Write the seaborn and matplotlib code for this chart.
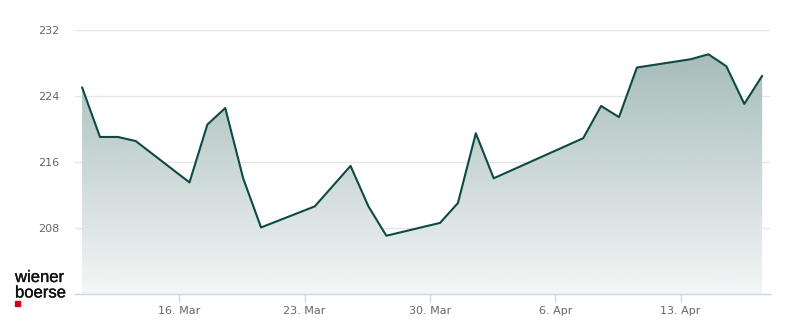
import numpy as np
import pandas as pd
import matplotlib
matplotlib.use("Agg")
import matplotlib.pyplot as plt
import matplotlib.dates as mdates
import matplotlib.patheffects as pe
import seaborn as sns

dates = ["2026-03-10", "2026-03-11", "2026-03-12", "2026-03-13", "2026-03-16",
         "2026-03-17", "2026-03-18", "2026-03-19", "2026-03-20", "2026-03-23",
         "2026-03-25", "2026-03-26", "2026-03-27", "2026-03-30", "2026-03-31",
         "2026-04-01", "2026-04-02", "2026-04-07", "2026-04-08", "2026-04-09",
         "2026-04-10", "2026-04-13", "2026-04-14", "2026-04-15", "2026-04-16",
         "2026-04-17"]
close = [225.0, 219.0, 219.0, 218.5, 213.5,
         220.5, 222.5, 214.0, 208.05, 210.6,
         215.5, 210.6, 207.05, 208.6, 211.0,
         219.45, 214.0, 218.85, 222.75, 221.4,
         227.4, 228.4, 229.0, 227.55, 223.0,
         226.4]
tick_dates = ["2026-03-16", "2026-03-23", "2026-03-30", "2026-04-06", "2026-04-13"]
tick_labels = ["16. Mar", "23. Mar", "30. Mar", "6. Apr", "13. Apr"]
y_ticks = [208, 216, 224, 232]

LINE = "#0e4a44"

df = pd.DataFrame({"date": pd.to_datetime(dates) + pd.Timedelta(hours=13.5),
                   "close": close})

sns.set_style("white")
plt.rcParams["font.family"] = ["DejaVu Sans"]

fig = plt.figure(figsize=(8, 3.24), dpi=100)
ax = fig.add_axes([75 / 800, 30 / 324, 695 / 800, 264.5 / 324])

xnum = mdates.date2num(df["date"])
x0 = mdates.date2num(pd.Timestamp("2026-03-10 04:00"))
x1 = mdates.date2num(pd.Timestamp("2026-04-18 00:00"))
ymin, ymax = 200, 232

ax.grid(axis="y", color="#e6e6e6", linewidth=1, zorder=0)
ax.grid(axis="x", visible=False)
ax.set_axisbelow(True)

# gradient fill under the line
poly = ax.fill_between(xnum, df["close"], ymin, color="white", lw=0, zorder=1)
n = 256
alpha = np.linspace(0.05, 0.37, n)[:, None]
rgb = np.array(matplotlib.colors.to_rgb(LINE))
img = np.zeros((n, 1, 4))
img[..., :3] = rgb
img[..., 3] = alpha
im = ax.imshow(img, extent=[xnum.min(), xnum.max(), ymin, 229.0], aspect="auto",
               origin="lower", zorder=2, interpolation="bilinear")
im.set_clip_path(poly.get_paths()[0], transform=ax.transData)

sns.lineplot(data=df, x="date", y="close", ax=ax, color=LINE, linewidth=1.5, zorder=3)

ax.set_xlim(x0, x1)
ax.set_ylim(ymin, ymax)
ax.set_yticks(y_ticks)
ax.set_yticklabels([str(v) for v in y_ticks])
ax.set_xticks(mdates.date2num(pd.to_datetime(tick_dates)))
ax.set_xticklabels(tick_labels)
ax.set_xlabel("")
ax.set_ylabel("")

for s in ["top", "right", "left"]:
    ax.spines[s].set_visible(False)
ax.spines["bottom"].set_color("#ccd6eb")
ax.spines["bottom"].set_linewidth(1)
ax.spines["bottom"].set_zorder(4)
ax.tick_params(axis="x", length=6, width=1, color="#ccd6eb", pad=3,
               labelsize=8, labelcolor="#666666", bottom=True)
ax.tick_params(axis="y", length=0, pad=11, labelsize=8, labelcolor="#666666")

# logo
heavy = [pe.withStroke(linewidth=0.25, foreground="#111111")]
fig.text(15 / 800, 1 - 282 / 324, "wiener", fontsize=12, family="Liberation Sans",
         color="#111111", va="baseline", ha="left", path_effects=heavy)
fig.text(15 / 800, 1 - 297.5 / 324, "boerse", fontsize=12, family="Liberation Sans",
         color="#111111", va="baseline", ha="left", path_effects=heavy)
fig.patches.append(matplotlib.patches.Rectangle((15 / 800, 1 - 305.5 / 324), 4.5 / 800, 4.5 / 324,
                                                transform=fig.transFigure, color="#d4001a"))

fig.savefig("out.png", dpi=100)
